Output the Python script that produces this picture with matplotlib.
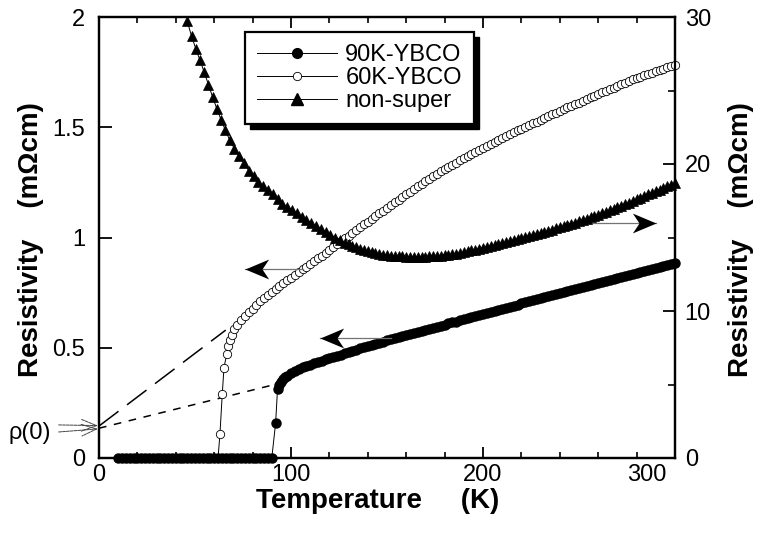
import matplotlib
matplotlib.use("Agg")
import matplotlib.pyplot as plt
import matplotlib.transforms as mtransforms
from matplotlib.path import Path
from matplotlib.patches import Rectangle
from matplotlib.lines import Line2D
from matplotlib.ticker import FixedLocator, FixedFormatter, MultipleLocator

plt.rcParams['font.family'] = ['Liberation Sans', 'DejaVu Sans']

# ---------------- data ----------------
# 90K-YBCO (left axis, mOhm cm)
t90 = [10, 12, 14, 16, 18, 20, 22, 24, 26, 28, 30, 32, 34, 36, 38, 40, 42, 44, 46, 48,
       50, 52, 54, 56, 58, 60, 62, 64, 66, 68, 70, 72, 74, 76, 78, 80, 82, 84, 86, 88, 90,
       92, 93, 94, 95, 96, 97, 98, 100, 102, 104, 106, 108,
       110, 112, 114, 116, 118, 120, 122, 124, 126, 128, 130, 132, 134, 136, 138, 140, 142, 144, 146, 148, 150,
       152, 154, 156, 158, 160, 162, 164, 166, 168, 170, 172, 174, 176, 178, 180, 182, 184, 186, 188, 190,
       192, 194, 196, 198, 200, 202, 204, 206, 208, 210, 212, 214, 216, 218, 220, 222, 224, 226, 228, 230,
       232, 234, 236, 238, 240, 242, 244, 246, 248, 250, 252, 254, 256, 258, 260, 262, 264, 266, 268, 270,
       272, 274, 276, 278, 280, 282, 284, 286, 288, 290, 292, 294, 296, 298, 300]
r90 = [0, 0, 0, 0, 0, 0, 0, 0, 0, 0, 0, 0, 0, 0, 0, 0, 0, 0, 0, 0,
       0, 0, 0, 0, 0, 0, 0, 0, 0, 0, 0, 0, 0, 0, 0, 0, 0, 0, 0, 0, 0,
       0.16, 0.315, 0.33, 0.345, 0.357, 0.366, 0.374, 0.386, 0.396, 0.404, 0.411, 0.417,
       0.423, 0.429, 0.435, 0.441, 0.447, 0.453, 0.458, 0.464, 0.469, 0.475, 0.480, 0.486, 0.491, 0.497, 0.502,
       0.507, 0.512, 0.517, 0.522, 0.528, 0.533,
       0.538, 0.543, 0.548, 0.553, 0.557, 0.562, 0.567, 0.572, 0.576, 0.581, 0.586, 0.591, 0.596, 0.600, 0.605,
       0.610, 0.615, 0.619, 0.624, 0.629,
       0.634, 0.638, 0.643, 0.648, 0.653, 0.658, 0.663, 0.667, 0.672, 0.677, 0.682, 0.687, 0.691, 0.696, 0.701,
       0.706, 0.710, 0.715, 0.720, 0.725,
       0.729, 0.734, 0.739, 0.744, 0.749, 0.753, 0.758, 0.763, 0.768, 0.773, 0.777, 0.782, 0.786, 0.791, 0.795,
       0.800, 0.804, 0.809, 0.813, 0.818,
       0.822, 0.826, 0.831, 0.835, 0.840, 0.844, 0.848, 0.853, 0.857, 0.862, 0.866, 0.870, 0.875, 0.879, 0.884]

# 60K-YBCO (left axis, mOhm cm)
t60 = [14, 22, 30, 38, 46, 54, 62, 63, 64.2, 65.1, 66.5, 67.4, 68.2, 69.3, 70.5, 72,
       74, 76, 78, 80, 82, 84, 86, 88, 90, 92, 94, 96, 98, 100, 102, 104, 106, 108, 110,
       112, 114, 116, 118, 120, 122, 124, 126, 128, 130, 132, 134, 136, 138, 140, 142, 144, 146, 148, 150,
       152, 154, 156, 158, 160, 162, 164, 166, 168, 170, 172, 174, 176, 178, 180, 182, 184, 186, 188, 190,
       192, 194, 196, 198, 200, 202, 204, 206, 208, 210, 212, 214, 216, 218, 220, 222, 224, 226, 228, 230,
       232, 234, 236, 238, 240, 242, 244, 246, 248, 250, 252, 254, 256, 258, 260, 262, 264, 266, 268, 270,
       272, 274, 276, 278, 280, 282, 284, 286, 288, 290, 292, 294, 296, 298, 300]
r60 = [0, 0, 0, 0, 0, 0, 0, 0.11, 0.29, 0.41, 0.47, 0.51, 0.535, 0.56, 0.585, 0.605,
       0.628, 0.645, 0.660, 0.675, 0.692, 0.710, 0.727, 0.741, 0.754, 0.767, 0.780, 0.792, 0.805, 0.818,
       0.831, 0.843, 0.856, 0.868, 0.881,
       0.893, 0.906, 0.918, 0.931, 0.944, 0.957, 0.970, 0.983, 0.996, 1.009, 1.021, 1.034, 1.046, 1.059,
       1.071, 1.084, 1.096, 1.109, 1.121, 1.134,
       1.146, 1.159, 1.171, 1.184, 1.196, 1.208, 1.220, 1.232, 1.244, 1.256, 1.267, 1.278, 1.289, 1.300,
       1.310, 1.320, 1.330, 1.340, 1.350, 1.360,
       1.370, 1.380, 1.389, 1.398, 1.407, 1.416, 1.425, 1.434, 1.443, 1.452, 1.461, 1.470, 1.478, 1.486,
       1.494, 1.502, 1.510, 1.518, 1.526, 1.534,
       1.542, 1.550, 1.558, 1.566, 1.574, 1.582, 1.590, 1.597, 1.605, 1.612, 1.620, 1.628, 1.635, 1.643,
       1.650, 1.658, 1.665, 1.673, 1.680, 1.688,
       1.695, 1.702, 1.710, 1.717, 1.724, 1.730, 1.736, 1.742, 1.748, 1.754, 1.760, 1.765, 1.771, 1.776, 1.782]

# non-super (right axis, mOhm cm)
tns = [46, 48.2, 50.4, 52.6, 54.8, 57.0, 59.2, 61.4, 63.6, 65.8, 68.0, 70.5, 73.0, 75.5, 78.0, 80.5,
       83.0, 85.5, 88.0, 90.5, 93.0, 95.5, 98.0, 100.5, 103.0, 105.5, 108.0, 110.5, 113.0, 115.5, 118.0,
       120.5, 123.0, 125.5, 128.0,
       130, 132, 134, 136, 138, 140, 142, 144, 146, 148, 150, 152, 154, 156, 158, 160, 162, 164, 166, 168,
       170, 172, 174, 176, 178, 180, 182, 184, 186, 188, 190, 192, 194, 196, 198, 200, 202, 204, 206, 208,
       210, 212, 214, 216, 218, 220, 222, 224, 226, 228, 230, 232, 234, 236, 238, 240, 242, 244, 246, 248,
       250, 252, 254, 256, 258, 260, 262, 264, 266, 268, 270, 272, 274, 276, 278, 280, 282, 284, 286, 288,
       290, 292, 294, 296, 298, 300]
rns = [29.7, 28.7, 27.85, 27.05, 26.25, 25.4, 24.55, 23.75, 23.0, 22.3, 21.65, 21.05, 20.55, 20.05, 19.55,
       19.15, 18.8, 18.5, 18.25, 17.95, 17.6, 17.3, 17.1, 16.9, 16.65, 16.42, 16.2, 16.0, 15.8, 15.6, 15.4,
       15.2, 15.0, 14.85, 14.65,
       14.55, 14.43, 14.32, 14.22, 14.13, 14.05, 13.99, 13.93, 13.88, 13.84, 13.80, 13.77, 13.74, 13.72, 13.71,
       13.70, 13.69, 13.69, 13.69, 13.70, 13.70, 13.71, 13.73, 13.75, 13.77, 13.80, 13.83, 13.87, 13.91, 13.95,
       14.00, 14.06, 14.12, 14.18, 14.24, 14.30, 14.36, 14.42, 14.48, 14.54, 14.60, 14.67, 14.74, 14.81, 14.88,
       14.95, 15.02, 15.09, 15.16, 15.23, 15.30, 15.38, 15.46, 15.54, 15.62, 15.70, 15.78, 15.86, 15.94, 16.02,
       16.10, 16.19, 16.28, 16.37, 16.46, 16.55, 16.65, 16.75, 16.85, 16.95, 17.05, 17.16, 17.27, 17.38, 17.49,
       17.60, 17.71, 17.82, 17.93, 18.04, 18.15, 18.26, 18.37, 18.48, 18.59, 18.70]

# extrapolation lines to rho(0)
ext60_t = [0, 66]
ext60_r = [0.145, 0.58]
ext90_t = [0, 90]
ext90_r = [0.135, 0.33]

xticks = [0, 100, 200, 300]
xticklabels = ['0', '100', '200', '300']
lyticks = [0, 0.5, 1, 1.5, 2]
lyticklabels = ['0', '0.5', '1', '1.5', '2']
ryticks = [0, 10, 20, 30]
ryticklabels = ['0', '10', '20', '30']
legend_labels = ['90K-YBCO', '60K-YBCO', 'non-super']

# ---------------- figure ----------------
W, H = 760, 540
fig = plt.figure(figsize=(W / 100, H / 100), dpi=100)
L, R, B, T = 99, 675, 458, 17
ax = fig.add_axes([L / W, 1 - B / H, (R - L) / W, (B - T) / H])
ax2 = ax.twinx()

ax.set_xlim(0, 300)
ax.set_ylim(0, 2)
ax2.set_ylim(0, 30)

lw_spine = 1.6
for a in (ax, ax2):
    for s in a.spines.values():
        s.set_linewidth(lw_spine)

ax.xaxis.set_major_locator(FixedLocator(xticks))
ax.xaxis.set_major_formatter(FixedFormatter(xticklabels))
ax.xaxis.set_minor_locator(MultipleLocator(20))
ax.yaxis.set_major_locator(FixedLocator(lyticks))
ax.yaxis.set_major_formatter(FixedFormatter(lyticklabels))
ax2.yaxis.set_major_locator(FixedLocator(ryticks))
ax2.yaxis.set_major_formatter(FixedFormatter(ryticklabels))
ax2.yaxis.set_minor_locator(MultipleLocator(5))

fs_tick = 17
ax.tick_params(axis='x', which='both', direction='in', top=True, bottom=True, labelsize=fs_tick, pad=4)
ax.tick_params(axis='x', which='major', length=8, width=1.3)
ax.tick_params(axis='x', which='minor', length=4, width=1.2)
ax.tick_params(axis='y', which='major', direction='in', left=True, right=False, length=9, width=1.3,
               labelsize=fs_tick, pad=10)
ax2.tick_params(axis='y', which='major', direction='in', length=9, width=1.3, labelsize=fs_tick, pad=7)
ax2.tick_params(axis='y', which='minor', direction='in', length=5, width=1.2)

# extrapolation dashed lines
ax.plot(ext60_t, ext60_r, color='black', lw=1.1, dashes=(16, 7), zorder=2)
ax.plot(ext90_t, ext90_r, color='black', lw=1.1, dashes=(5, 5), zorder=2)

# data series
l60, = ax.plot(t60, r60, color='black', lw=0.7, marker='o', markersize=6, markerfacecolor='white',
               markeredgecolor='black', markeredgewidth=0.6, zorder=3, clip_on=False)
l90, = ax.plot(t90, r90, color='black', lw=0.7, marker='o', markersize=6.5, markerfacecolor='black',
               markeredgecolor='black', zorder=4, clip_on=False)
lns, = ax2.plot(tns, rns, color='black', lw=0.7, marker='^', markersize=6.5, markerfacecolor='black',
                markeredgecolor='black', markeredgewidth=0.5, zorder=3, clip_on=False)

# arrows (stealth style head)
head_left = Path([(0, 0), (1, 0.42), (0.72, 0), (1, -0.42), (0, 0)],
                 [Path.MOVETO, Path.LINETO, Path.LINETO, Path.LINETO, Path.CLOSEPOLY])
head_right = Path([(0, 0), (-1, 0.42), (-0.72, 0), (-1, -0.42), (0, 0)],
                  [Path.MOVETO, Path.LINETO, Path.LINETO, Path.LINETO, Path.CLOSEPOLY])


def arrow(x0, x1, y, head):
    ax.plot([x0, x1], [y, y], color='0.45', lw=0.9, zorder=5)
    ax.plot([x1], [y], marker=head, markersize=34, color='black', markeredgewidth=0, zorder=6)


arrow(106, 76, 0.856, head_left)
arrow(152, 115, 0.546, head_left)
arrow(256, 290, 1.064, head_right)

# rho(0) label
ax.text(-36, 0.112, 'ρ(0)', fontsize=fs_tick, ha='center', va='center', clip_on=False)
for y0, y1 in ((0.150, 0.147), (0.118, 0.132)):
    ax.annotate('', xy=(-0.6, y1), xytext=(-21, y0),
                arrowprops=dict(arrowstyle='->,head_length=0.9,head_width=0.35', color='0.25',
                                lw=0.7, linestyle=(0, (3, 1)), mutation_scale=12,
                                shrinkA=0, shrinkB=0),
                annotation_clip=False)

# axis labels
ax.set_xlabel('Temperature     (K)', fontsize=20, fontweight='bold')
ax.xaxis.set_label_coords((378 - L) / (R - L), (B - 488) / (B - T))
ax.set_ylabel('Resistivity    (mΩcm)', fontsize=20, fontweight='bold')
ax.yaxis.set_label_coords((44 - L) / (R - L), (B - 240) / (B - T))
ax2.set_ylabel('Resistivity    (mΩcm)', fontsize=20, fontweight='bold')
ax2.yaxis.set_label_coords((728 - L) / (R - L), (B - 240) / (B - T))

# shift the last x tick label left, as in the reference
lab300 = ax.get_xticklabels()[-1]
lab300.set_transform(lab300.get_transform() +
                     mtransforms.ScaledTranslation(-28 / 100, 0, fig.dpi_scale_trans))

# legend
handles = [Line2D([], [], color='black', lw=0.7, marker='o', markersize=7, markerfacecolor='black'),
           Line2D([], [], color='black', lw=0.7, marker='o', markersize=6, markerfacecolor='white',
                  markeredgewidth=0.6),
           Line2D([], [], color='black', lw=0.7, marker='^', markersize=8, markerfacecolor='black')]
leg = ax.legend(handles, legend_labels, loc='upper left',
                bbox_to_anchor=((245 - L) / (R - L), (B - 32) / (B - T)),
                fontsize=17, frameon=True, fancybox=False, framealpha=1, handlelength=3.4,
                handletextpad=0.35, labelspacing=0.05, borderpad=0.5, borderaxespad=0)
leg.get_frame().set_edgecolor('black')
leg.get_frame().set_facecolor('white')
leg.get_frame().set_linewidth(1.6)
leg.set_zorder(10)

fig.canvas.draw()
bb = leg.get_window_extent()
off = 5
shadow = Rectangle((bb.x0 + off, bb.y0 - off), bb.width, bb.height,
                   facecolor='black', edgecolor='black', zorder=9)
ax.add_artist(shadow)
shadow.set_transform(mtransforms.IdentityTransform())

fig.savefig('out.png', dpi=100)
